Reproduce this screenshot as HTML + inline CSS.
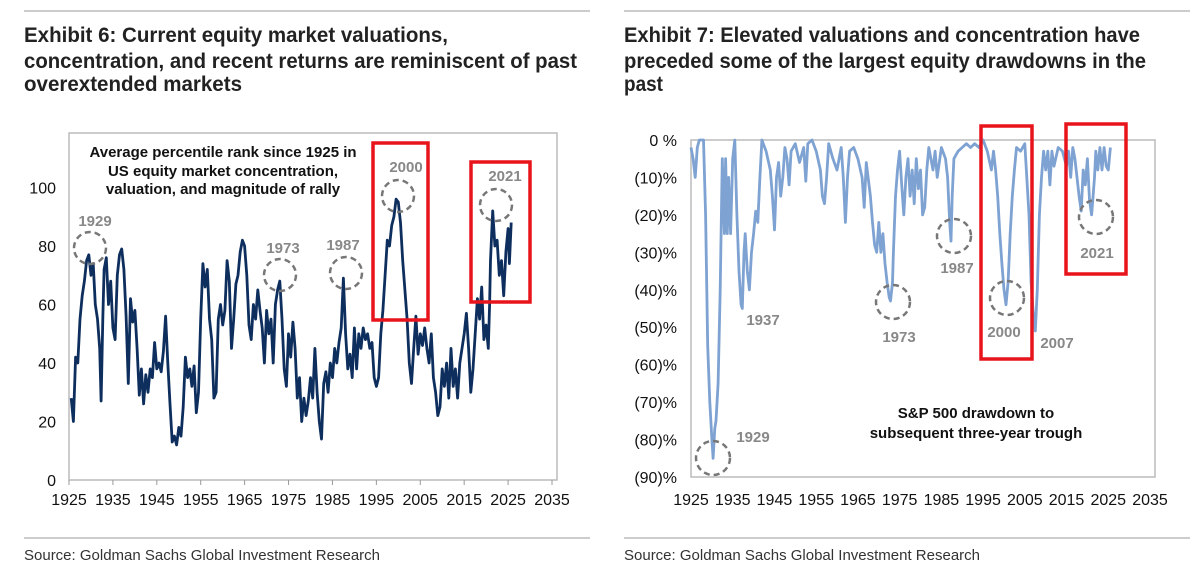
<!DOCTYPE html>
<html><head><meta charset="utf-8"><style>
html,body{margin:0;padding:0;background:#fff}
svg{display:block}
.t{font-family:"Liberation Sans Narrow","Liberation Sans",sans-serif;font-weight:bold;font-size:21px;fill:#222}
.ax{font-family:"Liberation Sans",sans-serif;font-size:16px;fill:#111}
.an{font-family:"Liberation Sans",sans-serif;font-weight:bold;font-size:15px;fill:#888}
.bx{font-family:"Liberation Sans",sans-serif;font-weight:bold;font-size:15px;fill:#111}
.src{font-family:"Liberation Sans Narrow","Liberation Sans",sans-serif;font-size:15px;fill:#333}
</style></head><body>
<svg id="s" width="1199" height="573" xmlns="http://www.w3.org/2000/svg">
<line x1="24" y1="11" x2="590" y2="11" stroke="#ccc" stroke-width="2"/>
<line x1="624" y1="11" x2="1190" y2="11" stroke="#ccc" stroke-width="2"/>
<g>
<text class="t" x="24" y="42" textLength="424" lengthAdjust="spacingAndGlyphs">Exhibit 6: Current equity market valuations,</text>
<text class="t" x="24" y="68" textLength="553" lengthAdjust="spacingAndGlyphs">concentration, and recent returns are reminiscent of past</text>
<text class="t" x="24" y="91" textLength="218" lengthAdjust="spacingAndGlyphs">overextended markets</text>
</g>
<g>
<text class="t" x="624" y="42" textLength="516" lengthAdjust="spacingAndGlyphs">Exhibit 7: Elevated valuations and concentration have</text>
<text class="t" x="624" y="68" textLength="522" lengthAdjust="spacingAndGlyphs">preceded some of the largest equity drawdowns in the</text>
<text class="t" x="624" y="91" textLength="39" lengthAdjust="spacingAndGlyphs">past</text>
</g>
<line x1="24" y1="538" x2="590" y2="538" stroke="#ccc" stroke-width="2"/>
<line x1="624" y1="538" x2="1190" y2="538" stroke="#ccc" stroke-width="2"/>
<text class="src" x="24" y="560">Source: Goldman Sachs Global Investment Research</text>
<text class="src" x="624" y="560">Source: Goldman Sachs Global Investment Research</text>
<g id="L"></g>
<g id="R"></g>
</svg>
<script>
const xTicks=[1925,1935,1945,1955,1965,1975,1985,1995,2005,2015,2025,2035];
const leftYTicks=[0,20,40,60,80,100];
const rightYTicks=[0,-10,-20,-30,-40,-50,-60,-70,-80,-90];
const rightYLabels=["0 %","(10)%","(20)%","(30)%","(40)%","(50)%","(60)%","(70)%","(80)%","(90)%"];
const leftYears=[1925.5,1926,1926.5,1927,1927.5,1928,1928.5,1929,1929.5,1930,1930.5,1931,1931.5,1932,1932.3,1932.7,1933,1933.5,1934,1934.5,1935,1935.5,1936,1936.5,1937,1937.5,1938,1938.5,1939,1939.5,1940,1940.5,1941,1941.5,1942,1942.5,1943,1943.5,1944,1944.5,1945,1945.5,1946,1946.5,1947,1947.5,1948,1948.5,1949,1949.5,1950,1950.5,1951,1951.5,1952,1952.5,1953,1953.5,1954,1954.5,1955,1955.5,1956,1956.5,1957,1957.5,1958,1958.5,1959,1959.5,1960,1960.5,1961,1961.5,1962,1962.5,1963,1963.5,1964,1964.5,1965,1965.5,1966,1966.5,1967,1967.5,1968,1968.5,1969,1969.5,1970,1970.5,1971,1971.5,1972,1972.5,1973,1973.5,1974,1974.5,1975,1975.5,1976,1976.5,1977,1977.5,1978,1978.5,1979,1979.5,1980,1980.5,1981,1981.5,1982,1982.5,1983,1983.5,1984,1984.5,1985,1985.5,1986,1986.5,1987,1987.5,1988,1988.5,1989,1989.5,1990,1990.5,1991,1991.5,1992,1992.5,1993,1993.5,1994,1994.5,1995,1995.5,1996,1996.5,1997,1997.5,1998,1998.5,1999,1999.5,2000,2000.5,2001,2001.5,2002,2002.5,2003,2003.5,2004,2004.5,2005,2005.5,2006,2006.5,2007,2007.5,2008,2008.5,2009,2009.5,2010,2010.5,2011,2011.5,2012,2012.5,2013,2013.5,2014,2014.5,2015,2015.5,2016,2016.5,2017,2017.5,2018,2018.5,2019,2019.5,2020,2020.5,2020.8,2021,2021.5,2022,2022.5,2023,2023.5,2024,2024.5,2025,2025.3,2025.7];
const leftValues=[28,20,42,40,55,63,68,75,77,70,74,60,55,45,27,55,72,76,60,68,52,48,70,77,79,72,56,33,62,54,58,45,29,38,26,36,30,38,35,47,38,40,37,44,56,40,26,13,15,12,18,15,25,42,35,38,32,39,23,30,55,74,66,72,55,48,28,30,55,60,53,58,75,68,45,55,67,70,78,82,80,70,53,48,60,55,65,58,52,40,58,50,55,40,60,65,68,55,38,32,50,42,54,45,28,35,20,28,22,27,35,28,45,30,20,14,33,37,30,40,35,45,40,47,52,69,50,38,43,35,52,38,50,45,52,48,50,45,47,35,32,35,50,58,70,82,80,87,90,96,95,88,75,65,55,40,33,45,56,43,50,46,52,45,40,50,35,30,22,25,38,32,40,28,45,32,38,28,40,45,50,57,45,30,38,50,62,55,66,48,53,45,60,75,92,80,82,70,75,63,78,86,74,88];
const rightYears=[1925,1925.5,1926,1926.5,1927,1928,1928.5,1929,1929.5,1930,1930.3,1930.7,1931,1931.5,1932,1932.5,1933,1933.3,1933.7,1934,1934.5,1935,1935.5,1936,1936.5,1937,1937.3,1937.7,1938,1938.5,1939,1939.5,1940,1940.5,1941,1941.5,1942,1943,1944,1944.5,1945,1945.5,1946,1946.5,1947,1947.5,1948,1948.5,1949,1950,1951,1952,1952.5,1953,1954,1955,1956,1956.5,1957,1957.5,1958,1959,1960,1961,1961.5,1962,1962.5,1963,1964,1965,1966,1966.5,1967,1968,1968.5,1969,1969.5,1970,1970.5,1971,1971.5,1972,1972.5,1972.8,1973.3,1973.5,1974,1974.5,1975,1975.5,1976,1976.5,1977,1977.5,1978,1978.5,1979,1979.5,1980,1980.5,1981,1981.5,1982,1983,1983.5,1984,1985,1986,1986.5,1987,1987.3,1987.6,1988,1989,1990,1991,1992,1993,1994,1995,1996,1997,1997.5,1998,1998.5,1999,1999.5,2000,2000.5,2001,2001.5,2002,2002.5,2003,2004,2005,2006,2006.5,2007,2007.5,2008,2008.5,2009,2009.5,2010,2010.5,2011,2011.5,2012,2013,2014,2015,2015.5,2016,2016.5,2017,2017.5,2018,2018.5,2019,2019.5,2020,2020.5,2021,2021.3,2021.7,2022,2022.5,2023,2023.5,2024,2024.5,2025,2025.5];
const rightValues=[-2,-5,-10,-2,0,0,-20,-55,-70,-80,-85,-77,-75,-65,-40,-5,-25,-5,-25,-10,-25,-5,0,-20,-35,-44,-45,-30,-25,-35,-40,-30,-25,-19,-22,-10,0,-3,-8,-15,-24,-10,-6,-15,-10,-2,-5,-12,-3,-1,-6,-2,-11,-1,0,-3,-8,-15,-17,-10,-1,-5,-8,-2,-10,-22,-10,-3,-2,-5,-10,-18,-6,-15,-22,-28,-30,-22,-30,-25,-33,-38,-42,-43,-38,-30,-15,-8,-3,-12,-20,-10,-5,-15,-8,-17,-5,-13,-8,-20,-18,-8,-2,-8,-3,-10,-2,-5,-10,-22,-27,-15,-5,-3,-2,-1,-2,-1,-2,0,-3,-8,-3,-8,-15,-25,-33,-40,-44,-38,-25,-15,-8,-2,-3,-1,-20,-38,-46,-51,-40,-20,-10,-3,-8,-3,-12,-3,-7,-2,-3,-7,-3,-10,-2,-5,-10,-15,-19,-8,-12,-5,-16,-20,-16,-10,-3,-8,-2,-8,-2,-7,-8,-2];

const NS="http://www.w3.org/2000/svg";
function mk(p,tag,at,txt){const e=document.createElementNS(NS,tag);for(const k in at)e.setAttribute(k,at[k]);if(txt!==undefined)e.textContent=txt;p.appendChild(e);return e;}

// Left chart
const L=document.getElementById('L');
const lx=v=>69+(v-1925)/110*(552-69);
const ly=v=>480-v*2.925;
const lf=mk(L,'rect',{x:69,y:133,width:488,height:347,fill:'none',stroke:'#bbb','stroke-width':1.5});


leftYTicks.forEach(v=>{const t=mk(L,'text',{class:'ax',x:56,y:ly(v)+6,'text-anchor':'end'},String(v));

});
xTicks.forEach(v=>{const t=mk(L,'text',{class:'ax',x:lx(v),y:505,'text-anchor':'middle'},String(v));


const k=mk(L,'line',{x1:lx(v),x2:lx(v),y1:480,y2:485,stroke:'#999'});

});
const lp=mk(L,'path',{d:leftYears.map((y,i)=>(i?'L':'M')+lx(y).toFixed(1)+','+ly(leftValues[i]).toFixed(1)).join(''),fill:'none',stroke:'#0e2f5e','stroke-width':2.8,'stroke-linejoin':'round'});


// Right chart
const R=document.getElementById('R');
const rx=v=>691+(v-1925)/110*(1150-691);
const ry=v=>140-v*(337/90);
const rf=mk(R,'rect',{x:691,y:140,width:464,height:337,fill:'none',stroke:'#bbb','stroke-width':1.5});


rightYTicks.forEach((v,i)=>{const t=mk(R,'text',{class:'ax',x:677,y:ry(v)+6,'text-anchor':'end'},rightYLabels[i]);

});
xTicks.forEach(v=>{const t=mk(R,'text',{class:'ax',x:rx(v),y:505,'text-anchor':'middle'},String(v));

});
const rp=mk(R,'path',{d:rightYears.map((y,i)=>(i?'L':'M')+rx(y).toFixed(1)+','+ry(rightValues[i]).toFixed(1)).join(''),fill:'none',stroke:'#7ea2d2','stroke-width':2.8,'stroke-linejoin':'round'});



// annotations
function circ(p,cx,cy,r){const c=mk(p,'circle',{cx:cx,cy:cy,r:r,fill:'none',stroke:'#777','stroke-width':2.5,'stroke-dasharray':'6 4'});

}
function lab(p,x,y,s,cls){const t=mk(p,'text',{class:cls||'an',x:x,y:y,'text-anchor':'middle'},s);

}
function box(p,x1,y1,x2,y2){const b=mk(p,'rect',{x:x1,y:y1,width:x2-x1,height:y2-y1,fill:'none',stroke:'#e8141c','stroke-width':3.5});

}
lab(L,223,157,'Average percentile rank since 1925 in','bx');
lab(L,223,176,'US equity market concentration,','bx');
lab(L,223,194,'valuation, and magnitude of rally','bx');
circ(L,90,248,16);lab(L,95,226,'1929');
circ(L,280,275,16);lab(L,283,253,'1973');
circ(L,346,273,16);lab(L,343,250,'1987');
circ(L,398,196,16);lab(L,406,172,'2000');
circ(L,496,205,16);lab(L,505,181,'2021');
box(L,373,143,428,320);box(L,471,162,530,302);
circ(R,713,458,17);lab(R,753,442,'1929');
lab(R,763,325,'1937');
circ(R,893,302,17);lab(R,899,342,'1973');
circ(R,954,236,17);lab(R,957,273,'1987');
circ(R,1007,298,17);lab(R,1004,337,'2000');
lab(R,1057,348,'2007');
circ(R,1096,217,17);lab(R,1097,258,'2021');
box(R,981,126,1032,359);box(R,1066,124,1126,274);
lab(R,976,418,'S&P 500 drawdown to','bx');
lab(R,976,438,'subsequent three-year trough','bx');
</script>
</body></html>
